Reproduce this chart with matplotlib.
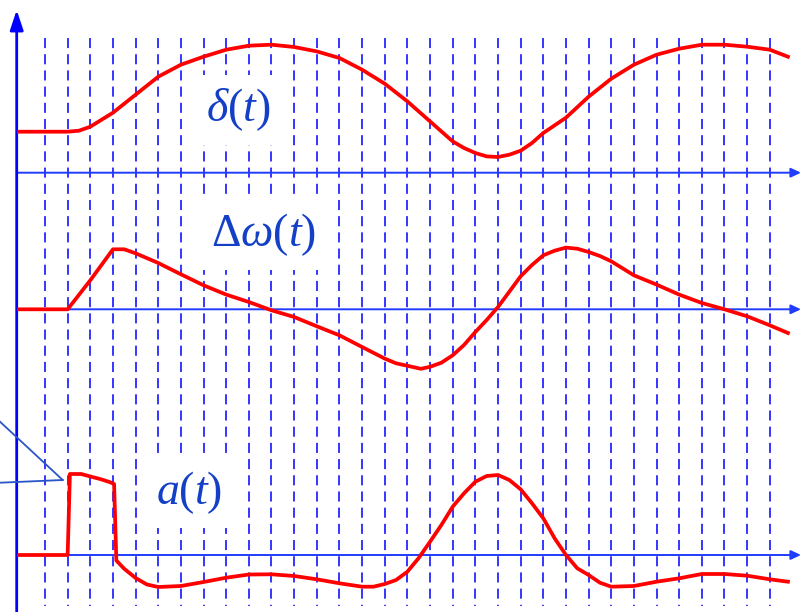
import matplotlib
matplotlib.use("Agg")

import matplotlib.pyplot as plt
from matplotlib.patches import FancyArrowPatch
import numpy as np

# time axis in grid steps: dashed line k sits at t = k
GRID_T = np.arange(0, 33)

# rotor angle delta(t), height above its own axis
delta_t = [-1.15, 1.0, 1.5, 2, 3, 4, 5, 6, 7, 8, 9, 10, 11, 12, 13, 14, 15, 16, 17,
           18, 18.5, 19, 19.5, 20, 20.5, 21, 21.5, 22, 23, 24, 25, 26, 27, 28, 29,
           30, 31, 32, 32.8]
delta_v = [41, 41, 42, 46, 60, 78, 96, 108, 116, 123, 127, 128, 125.7, 121.3, 114.7,
           103, 89, 71.3, 51.3, 31.3, 24.7, 19.7, 16.3, 15.7, 18, 22, 29.7, 39.7, 55,
           76, 94, 108, 118, 124, 128, 128, 126, 123, 116]

# speed deviation delta-omega(t)
dw_t = [-1.15, 1.0, 2, 3.0, 3.5, 4, 5, 6, 7, 8, 9, 10, 11, 12, 13, 14, 15, 15.5, 16,
        16.6, 17, 17.5, 18, 18.5, 19, 19.5, 20, 20.5, 21, 21.5, 22, 22.5, 23, 23.5,
        24, 24.5, 25, 26, 27, 28, 29, 30, 31, 32, 32.8]
dw_v = [0, 0, 29, 60, 60, 56, 46.3, 35, 24, 14.7, 7.3, -1, -7.7, -17, -26, -37.7,
        -49.3, -54, -56.5, -59.5, -57.5, -53.4, -46, -35.7, -22.7, -10.7, 2.3, 17.6,
        33, 44.3, 54, 58.6, 61.7, 60.6, 57.3, 53.3, 48, 34, 24.7, 14.7, 6.3, 0, -7,
        -16, -23.7]

# acceleration a(t) with the fault pulse
acc_t = [-1.15, 1.0, 1.1, 1.6, 2.0, 2.43, 2.87, 3.05, 3.15, 3.5, 4, 4.5, 5, 6, 7, 8,
         9, 10, 11, 12, 13, 14, 14.5, 15, 15.5, 16, 16.5, 17, 17.5, 18, 18.5, 19,
         19.5, 20, 20.5, 21, 21.5, 22, 22.5, 23, 23.5, 24, 24.5, 25, 26, 27, 28, 29,
         30, 31, 32, 32.8]
acc_v = [0, 0, 81, 81, 78.5, 76, 72.8, 71, -5.5, -13.8, -23, -29.5, -32, -31, -27,
         -22.7, -19.5, -19.3, -21, -24.3, -28.3, -31.7, -31.7, -29, -25, -16.7, -3,
         13.3, 30, 48.3, 61.7, 73.3, 79, 80, 75, 65.7, 51.7, 36.7, 16.7, 0, -13.3,
         -20, -27.7, -31.7, -31, -26.7, -23.3, -19, -19, -20.7, -24.3, -26.7]

labels = [r"$\delta(t)$", r"$\Delta\omega(t)$", r"$a(t)$"]

# layout (pixel rows, pixel columns converted to grid steps)
W_PX, H_PX = 802, 612
X0_PX, STEP_PX = 45.0, 22.65
BASES = [172.7, 309.3, 555.0]
LABEL_POS = [(238, 110), (264, 235), (189, 493)]


def px_t(x):
    return (x - X0_PX) / STEP_PX


plt.rcParams["mathtext.fontset"] = "custom"
plt.rcParams["mathtext.rm"] = "Liberation Serif"
plt.rcParams["mathtext.it"] = "Liberation Serif:italic"

fig = plt.figure(figsize=(W_PX / 100, H_PX / 100), dpi=100)
ax = fig.add_axes([0, 0, 1, 1])
ax.set_xlim(px_t(0), px_t(W_PX))
ax.set_ylim(H_PX, 0)
ax.axis("off")

blue = "#0000ff"
text_blue = "#1440c8"
red = "#ff0000"

# dashed time grid
ax.vlines(GRID_T, 38, 606, colors=blue, linewidth=1.1,
          linestyles=(0, (6.6, 4.0)), zorder=1)

# time axes with arrows
axis_t = px_t(16.7)
for base in BASES:
    ax.add_patch(FancyArrowPatch((axis_t, base), (px_t(801), base),
                                 arrowstyle="-|>,head_length=6,head_width=2.8",
                                 mutation_scale=1, shrinkA=0, shrinkB=0,
                                 color="#1f3cff", linewidth=1.4, zorder=2))
ax.add_patch(FancyArrowPatch((axis_t, H_PX), (axis_t, 10),
                             arrowstyle="-|>,head_length=12,head_width=4",
                             mutation_scale=1, shrinkA=0, shrinkB=0,
                             color=blue, linewidth=2.0, zorder=2))

# curves
for (tt, vv), base in zip([(delta_t, delta_v), (dw_t, dw_v), (acc_t, acc_v)], BASES):
    ax.plot(tt, base - np.asarray(vv), color=red, linewidth=2.7,
            solid_joinstyle="round", zorder=4)

# curve names on white patches
for lab, (xp, yp) in zip(labels, LABEL_POS):
    ax.text(px_t(xp), yp, lab, fontsize=33, color=text_blue, ha="center",
            va="center", zorder=3,
            bbox=dict(boxstyle="square,pad=0.25", facecolor="white",
                      edgecolor="none"))

# callout lines pointing at the pulse
tip = (px_t(62.7), 480)
for y0 in (421.7, 482.7):
    ax.plot([px_t(0), tip[0]], [y0, tip[1]], color="#2a55c8", linewidth=1.3,
            zorder=3)

fig.savefig("out.png", dpi=100)
